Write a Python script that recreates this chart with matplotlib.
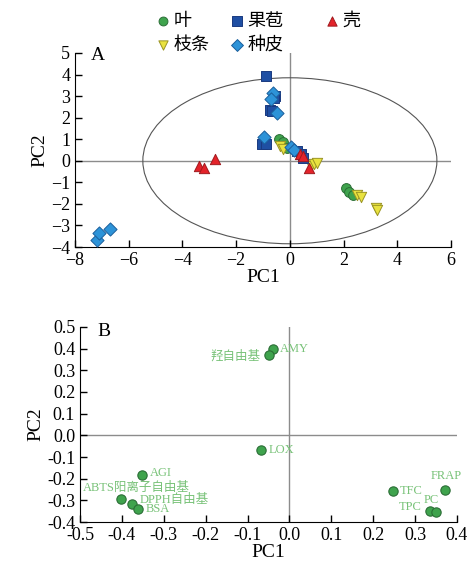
import matplotlib.pyplot as plt
from matplotlib.patches import Ellipse

plt.rcParams['font.family'] = ['Liberation Serif', 'Noto Sans CJK SC']
plt.rcParams['axes.unicode_minus'] = True

# panel A: sample scores
leaf_x = [-0.42, -0.24, -0.1, 2.1, 2.22, 2.35]
leaf_y = [1.0, 0.85, 0.6, -1.28, -1.45, -1.6]
twig_x = [-0.35, -0.25, 0.8, 0.9, 1.0, 2.5, 2.65, 3.2, 3.25]
twig_y = [0.7, 0.55, -0.25, -0.15, -0.1, -1.6, -1.7, -2.2, -2.3]
bract_x = [-0.88, -0.55, -0.6, -0.75, -0.68, -1.05, -0.88, 0.25, 0.4, 0.5]
bract_y = [3.94, 3.0, 2.9, 2.36, 2.3, 0.8, 0.78, 0.45, 0.3, 0.15]
coat_x = [-0.63, -0.71, -0.48, -0.96, 0.05, 0.15, -7.19, -7.09, -6.69]
coat_y = [3.16, 2.88, 2.2, 1.1, 0.65, 0.5, -3.66, -3.35, -3.16]
shell_x = [-3.37, -3.19, -2.78, 0.38, 0.5, 0.7]
shell_y = [-0.26, -0.34, 0.08, 0.3, 0.2, -0.35]

# panel B: variable loadings
var_names = ['AMY', '羟自由基', 'LOX', 'AGI', 'ABTS阳离子自由基', 'DPPH自由基', 'BSA',
             'TFC', 'FRAP', 'TPC', 'PC']
var_x = [-0.039, -0.05, -0.069, -0.352, -0.403, -0.376, -0.361, 0.248, 0.372, 0.336, 0.349]
var_y = [0.397, 0.373, -0.066, -0.182, -0.295, -0.316, -0.341, -0.259, -0.251, -0.349, -0.352]
label_off = [(5, 0), (-6, -1), (5.5, 0), (6, 1), (11, 8.4), (5.5, 3), (5.5, 0),
             (4.5, 0), (1, 9.6), (-6.2, 3), (-3, 8.4)]
label_ha = ['left', 'right', 'left', 'left', 'center', 'left', 'left',
            'left', 'center', 'right', 'center']

fig = plt.figure(figsize=(4.69, 5.66), dpi=100)
ax1 = fig.add_axes([0.160, 0.5636, 0.8016, 0.3428])
ax2 = fig.add_axes([0.1706, 0.0777, 0.8038, 0.3446])

for ax in (ax1, ax2):
    ax.spines['top'].set_visible(False)
    ax.spines['right'].set_visible(False)
    ax.tick_params(direction='in', length=5, labelsize=13, width=1)
    ax.axhline(0, color='#8c8c8c', lw=1, zorder=1)
    ax.axvline(0, color='#8c8c8c', lw=1, zorder=1)

ax1.add_patch(Ellipse((0, 0), 10.95, 7.7, fill=False, edgecolor='#555555', lw=0.8, zorder=1))
ms = 50
h_leaf = ax1.scatter(leaf_x, leaf_y, s=ms, marker='o', c='#3fa34d', edgecolors='#2b6e36', lw=0.7, zorder=3)
h_twig = ax1.scatter(twig_x, twig_y, s=ms + 5, marker='v', c='#e9e23f', edgecolors='#9a9424', lw=0.7, zorder=3)
h_bract = ax1.scatter(bract_x, bract_y, s=ms + 5, marker='s', c='#1f4fa3', edgecolors='#1a3a80', lw=0.7, zorder=3)
h_coat = ax1.scatter(coat_x, coat_y, s=ms - 5, marker='D', c='#2d93d8', edgecolors='#1b5f9c', lw=0.7, zorder=3)
h_shell = ax1.scatter(shell_x, shell_y, s=ms + 5, marker='^', c='#e3232a', edgecolors='#a01a1e', lw=0.7, zorder=4)

ax1.set_xlim(-8, 6)
ax1.set_ylim(-4, 5)
ax1.set_xticks(range(-8, 7, 2))
ax1.set_yticks(range(-4, 6))
ax1.set_xlabel('PC1', fontsize=14, labelpad=0)
ax1.set_ylabel('PC2', fontsize=14, labelpad=2)
ax1.text(0.042, 1.03, 'A', transform=ax1.transAxes, fontsize=14, va='top')

leg_kw = dict(frameon=False, fontsize=13, handletextpad=0.17, labelspacing=0.35,
              borderpad=0.2, handlelength=0.8, markerscale=0.9, loc='upper left')
fig.legend([h_leaf, h_twig, h_bract, h_coat], ['叶', '枝条', '果苞', '种皮'], ncol=2,
           bbox_to_anchor=(0.305, 0.999), columnspacing=1.14, **leg_kw)
fig.legend([h_shell], ['壳'], bbox_to_anchor=(0.665, 0.999), **leg_kw)

ax2.scatter(var_x, var_y, s=45, c='#3fa34d', edgecolors='#2b6e36', lw=0.8, zorder=3)
for name, x, y, off, ha in zip(var_names, var_x, var_y, label_off, label_ha):
    ax2.annotate(name, (x, y), xytext=off, textcoords='offset points', ha=ha, va='center',
                 fontsize=9, color='#78c278')

ax2.set_xlim(-0.5, 0.4)
ax2.set_ylim(-0.4, 0.5)
ax2.set_xticks([round(-0.5 + 0.1 * i, 1) for i in range(10)])
ax2.set_yticks([round(-0.4 + 0.1 * i, 1) for i in range(10)])
ax2.xaxis.set_major_formatter(plt.FormatStrFormatter('%.1f'))
ax2.yaxis.set_major_formatter(plt.FormatStrFormatter('%.1f'))
ax2.set_xlabel('PC1', fontsize=14, labelpad=0)
ax2.set_ylabel('PC2', fontsize=14, labelpad=2)
ax2.text(0.045, 1.022, 'B', transform=ax2.transAxes, fontsize=14, va='top')

fig.savefig('out.png', dpi=100)
